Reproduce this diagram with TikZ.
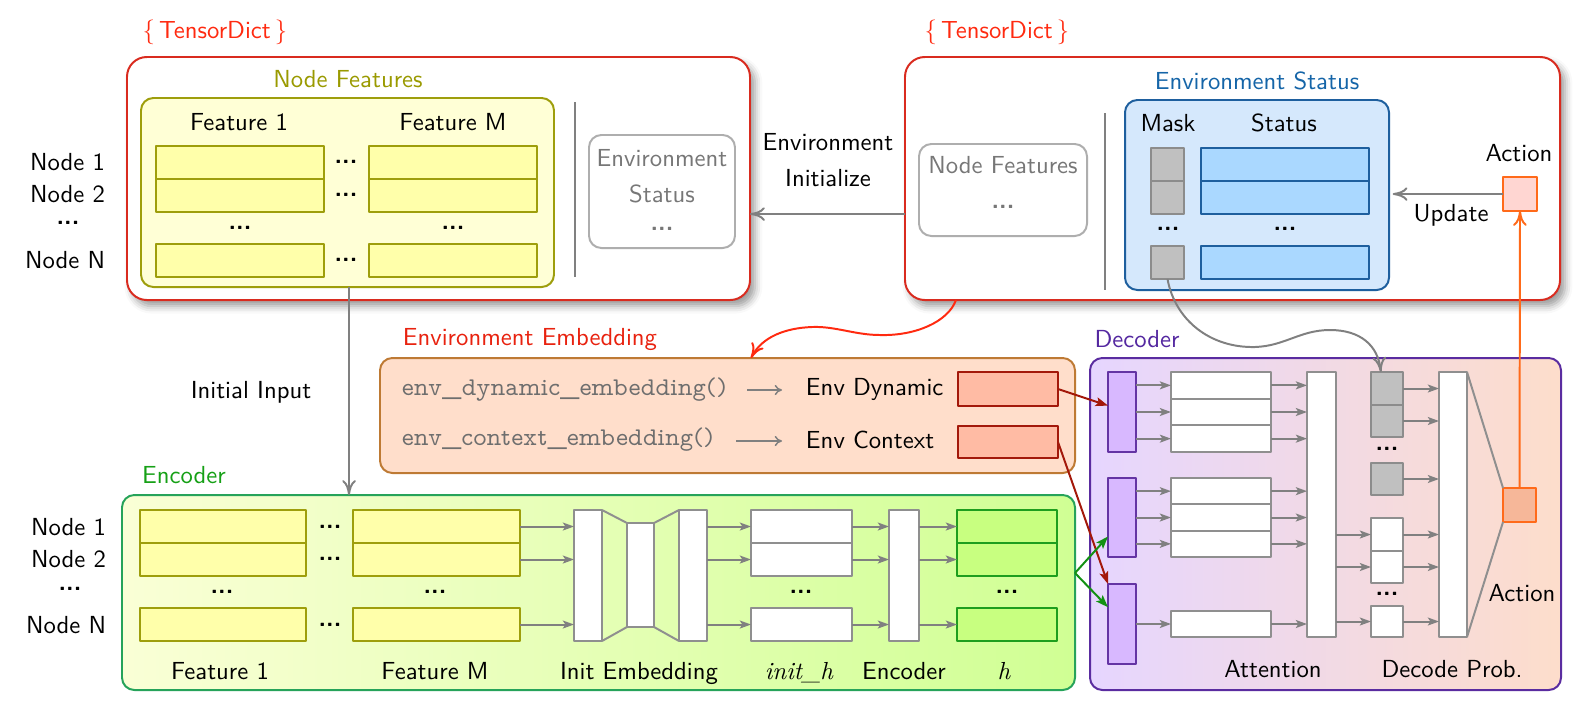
\documentclass[tikz,border=0pt]{standalone}
\usepackage{fontspec}
\usepackage{graphicx}
\newfontfamily\codefont{lmmonoprop10-regular}[Extension=.otf]
\renewcommand{\familydefault}{\sfdefault}
\usetikzlibrary{arrows.meta,fit,shadows.blur,calc}
\definecolor{tdred}{HTML}{D92B1F}
\definecolor{tdtxt}{HTML}{FF2A10}
\definecolor{olv}{HTML}{9E9E0C}
\definecolor{olvtxt}{HTML}{9A9A00}
\definecolor{yfill}{HTML}{FFFFD6}
\definecolor{ycell}{HTML}{FFFFAA}
\definecolor{gbord}{HTML}{AEAEAE}
\definecolor{gtxt}{HTML}{777777}
\definecolor{btxt}{HTML}{1565A8}
\definecolor{bfill}{HTML}{D5E8FC}
\definecolor{bbord}{HTML}{1E5F9E}
\definecolor{bcell}{HTML}{AAD8FF}
\definecolor{mfill}{HTML}{C0C0C0}
\definecolor{mbord}{HTML}{8C8C8C}
\definecolor{orng}{HTML}{FF6A1A}
\definecolor{pinkf}{HTML}{FFD6D2}
\definecolor{eefill}{HTML}{FFDECB}
\definecolor{eebord}{HTML}{BE7A34}
\definecolor{eetxt}{HTML}{E8220F}
\definecolor{salf}{HTML}{FFBBA4}
\definecolor{drd}{HTML}{A3180A}
\definecolor{encbord}{HTML}{26A35A}
\definecolor{enctxt}{HTML}{16A016}
\definecolor{encl}{HTML}{FAFFD6}
\definecolor{encr}{HTML}{D0FF94}
\definecolor{hfill}{HTML}{C8FF80}
\definecolor{hbord}{HTML}{1E9E1E}
\definecolor{grn}{HTML}{139113}
\definecolor{decbord}{HTML}{5A2CA0}
\definecolor{dectxt}{HTML}{5428A0}
\definecolor{decl}{HTML}{E6D6FF}
\definecolor{decr}{HTML}{FDDDCB}
\definecolor{pbar}{HTML}{D8B8FF}
\definecolor{pbord}{HTML}{6434A4}
\definecolor{dact}{HTML}{F6B799}
\definecolor{lg}{HTML}{808080}
\definecolor{codeg}{HTML}{6E6E6E}
\definecolor{wbord}{HTML}{8F8F8F}
\newcommand\mkbox[6]{\node[#1, fit={(#3,#4) (#5,#6)}, inner sep=0pt, outer sep=0pt] (#2) {};}
\newcommand\dts{\textbf{...}}
\begin{document}
\begin{tikzpicture}[x=0.405pt,y=-0.405pt,line width=0.8pt,line join=round,
  txt/.style={inner sep=0pt},
  tdbox/.style={draw=tdred, rounded corners=8pt, fill=white, blur shadow={shadow xshift=2pt,shadow yshift=-2.5pt,shadow blur radius=3pt}},
  nfbox/.style={draw=olv, fill=yfill, rounded corners=5pt},
  gbox/.style={draw=gbord, fill=white, rounded corners=5pt},
  bbox/.style={draw=bbord, fill=bfill, rounded corners=5pt},
  eebox/.style={draw=eebord, fill=eefill, rounded corners=5pt},
  encbox/.style={draw=encbord, left color=encl, right color=encr, rounded corners=5pt},
  decbox/.style={draw=decbord, left color=decl, right color=decr, rounded corners=5pt},
  yc/.style={draw=olv, fill=ycell},
  mc/.style={draw=mbord, fill=mfill},
  stc/.style={draw=bbord, fill=bcell},
  actbox/.style={draw=orng, fill=pinkf},
  dactbox/.style={draw=orng, fill=dact},
  salst/.style={draw=drd, fill=salf},
  hc/.style={draw=hbord, fill=hfill},
  wc/.style={draw=wbord, fill=white},
  pbst/.style={draw=pbord, fill=pbar},
  sepl/.style={draw=lg},
  oarr/.style={draw=lg, -{Computer Modern Rightarrow[length=6pt,width=5.5pt]}},
  sarr/.style={draw=lg, -{Stealth[length=4.5pt,width=3.2pt,inset=1pt]}},
  carr/.style={draw=lg, line width=0.6pt, -{Computer Modern Rightarrow[length=3pt,width=4.2pt]}},
  rarr/.style={draw=drd, -{Stealth[length=5pt,width=3.6pt,inset=1pt]}},
  garr/.style={draw=grn, -{Stealth[length=5pt,width=3.6pt,inset=1pt]}},
  wline/.style={draw=wbord}]
\useasboundingbox (0,0) rectangle (1595,716);

% ---------- TensorDict boxes
\mkbox{tdbox}{tdL}{127}{57}{750}{300}
\mkbox{tdbox}{tdR}{905}{57}{1560}{300}
\node[txt,text=tdtxt] (tdLl) at (215,32) {\{\,TensorDict\,\}};
\node[txt,text=tdtxt] (tdRl) at (997,32) {\{\,TensorDict\,\}};

% ---------- left TensorDict
\node[txt,text=olvtxt] (nfl) at (348,79) {Node Features};
\mkbox{nfbox}{nf}{141}{98}{554}{287}
\node[txt] (ft1) at (239,122) {Feature 1};
\node[txt] (ftm) at (453,122) {Feature M};
\mkbox{yc}{c1a}{156}{146}{324}{179}
\mkbox{yc}{c1b}{156}{179}{324}{212}
\mkbox{yc}{c1n}{156}{244}{324}{277}
\mkbox{yc}{cma}{369}{146}{537}{179}
\mkbox{yc}{cmb}{369}{179}{537}{212}
\mkbox{yc}{cmn}{369}{244}{537}{277}
\node[txt] (d1) at (346,162) {\dts};
\node[txt] (d2) at (346,195) {\dts};
\node[txt] (d3) at (346,260) {\dts};
\node[txt] (d4) at (240,228) {\dts};
\node[txt] (d5) at (453,228) {\dts};
\node[txt,anchor=east] (n1) at (106,162) {Node 1};
\node[txt,anchor=east] (n2) at (106,194) {Node 2};
\node[txt] (n3) at (68,223) {\dts};
\node[txt,anchor=east] (nn) at (106,260) {Node N};
\draw[sepl] (575,102) -- (575,277);
\mkbox{gbox}{es}{589}{135}{735}{248}
\node[txt,text=gtxt] (es1) at (662,158) {Environment};
\node[txt,text=gtxt] (es2) at (662,194) {Status};
\node[txt,text=gtxt] (es3) at (662,229) {\dts};

% ---------- environment initialize
\node[txt] (ei1) at (828,142) {Environment};
\node[txt] (ei2) at (828,178) {Initialize};
\coordinate (iy) at (0,214);
\draw[oarr] (tdR.west |- iy) -- (tdL.east |- iy);

% ---------- right TensorDict
\mkbox{gbox}{nf2}{919}{144}{1087}{236}
\node[txt,text=gtxt] (nf2a) at (1003,165) {Node Features};
\node[txt,text=gtxt] (nf2b) at (1003,207) {\dts};
\draw[sepl] (1105,113) -- (1105,290);
\node[txt,text=btxt] (esl) at (1257,81) {Environment Status};
\mkbox{bbox}{esb}{1125}{100}{1389}{290}
\node[txt] (mkl) at (1168,123) {Mask};
\node[txt] (stl) at (1284,123) {Status};
\mkbox{mc}{mk1}{1151}{148}{1184}{181}
\mkbox{mc}{mk2}{1151}{181}{1184}{214}
\mkbox{mc}{mkn}{1151}{246}{1184}{279}
\node[txt] (mkd) at (1168,229) {\dts};
\mkbox{stc}{st1}{1201}{148}{1369}{181}
\mkbox{stc}{st2}{1201}{181}{1369}{214}
\mkbox{stc}{stn}{1201}{246}{1369}{279}
\node[txt] (std) at (1285,229) {\dts};
\node[txt] (actl) at (1519,153) {Action};
\mkbox{actbox}{act}{1503}{177}{1537}{211}
\node[txt] (upl) at (1451,215) {Update};
\coordinate (uy) at (0,194);
\draw[oarr] (act.west |- uy) -- ([xshift=1.5pt]esb.east |- uy);

% ---------- environment embedding
\node[txt,text=eetxt] (eel) at (530,339) {Environment Embedding};
\mkbox{eebox}{ee}{380}{358}{1075}{473}
\node[txt,text=codeg,anchor=west] (cd1) at (401,390) {\resizebox{131.6pt}{!}{\codefont env\_dynamic\_embedding()}};
\node[txt,text=codeg,anchor=west] (cd2) at (401,440) {\resizebox{126.4pt}{!}{\codefont env\_context\_embedding()}};
\node[txt,anchor=west] (ed) at (805,389) {Env Dynamic};
\node[txt,anchor=west] (ec) at (805,440) {Env Context};
\coordinate (a1s) at (747,390);
\coordinate (a2s) at (736,441);
\draw[carr] (a1s) -- ([xshift=-9.3pt]ed.west |- a1s);
\draw[carr] (a2s) -- ([xshift=-9.3pt]ec.west |- a2s);
\mkbox{salst}{sd}{958}{372}{1058}{406}
\mkbox{salst}{sc}{958}{426}{1058}{458}

% ---------- encoder
\node[txt,text=enctxt] (encl) at (184,475) {Encoder};
\mkbox{encbox}{enc}{122}{495}{1075}{690}
\node[txt,anchor=east] (m1) at (107,527) {Node 1};
\node[txt,anchor=east] (m2) at (107,559) {Node 2};
\node[txt] (m3) at (70,589) {\dts};
\node[txt,anchor=east] (mn) at (107,625) {Node N};
\mkbox{yc}{e1a}{140}{510}{306}{543}
\mkbox{yc}{e1b}{140}{543}{306}{576}
\mkbox{yc}{e1n}{140}{608}{306}{641}
\mkbox{yc}{ema}{353}{510}{520}{543}
\mkbox{yc}{emb}{353}{543}{520}{576}
\mkbox{yc}{emn}{353}{608}{520}{641}
\node[txt] (ed1) at (330,527) {\dts};
\node[txt] (ed2) at (330,559) {\dts};
\node[txt] (ed3) at (330,625) {\dts};
\node[txt] (ed4) at (222,592) {\dts};
\node[txt] (ed5) at (435,592) {\dts};
\mkbox{wc}{ib1}{574}{510}{602}{641}
\mkbox{wc}{ib2}{627}{523}{654}{627}
\mkbox{wc}{ib3}{679}{510}{707}{641}
\draw[wline] (ib1.north east) -- (ib2.north west);
\draw[wline] (ib1.south east) -- (ib2.south west);
\draw[wline] (ib2.north east) -- (ib3.north west);
\draw[wline] (ib2.south east) -- (ib3.south west);
\mkbox{wc}{iha}{751}{510}{852}{543}
\mkbox{wc}{ihb}{751}{543}{852}{576}
\mkbox{wc}{ihn}{751}{608}{852}{641}
\node[txt] (ihd) at (801,592) {\dts};
\mkbox{wc}{eb}{889}{510}{919}{641}
\mkbox{hc}{ha}{957}{510}{1057}{543}
\mkbox{hc}{hb}{957}{543}{1057}{576}
\mkbox{hc}{hn}{957}{608}{1057}{641}
\node[txt] (hd) at (1007,592) {\dts};
\foreach \r in {a,b,n}{
  \draw[sarr] (em\r.east) -- (em\r.east -| ib1.west);
  \draw[sarr] (ib3.east |- ih\r.west) -- (ih\r.west);
  \draw[sarr] (ih\r.east) -- (ih\r.east -| eb.west);
  \draw[sarr] (eb.east |- h\r.west) -- (h\r.west);
}
\node[txt,anchor=base] (lb1) at (220,679) {Feature 1};
\node[txt,anchor=base] (lb2) at (435,679) {Feature M};
\node[txt,anchor=base] (lb3) at (639,679) {Init Embedding};
\node[txt,anchor=base,font=\rmfamily\itshape] (lb4) at (799,679) {init\_h};
\node[txt,anchor=base] (lb5) at (904,679) {Encoder};
\node[txt,anchor=base,font=\rmfamily\itshape] (lb6) at (1004,679) {h};

% ---------- initial input
\node[txt] (iil) at (251,392) {Initial Input};
\coordinate (iix) at (349,0);
\draw[oarr] (nf.south -| iix) -- (enc.north -| iix);

% ---------- decoder
\node[txt,text=dectxt] (decl) at (1137,339) {Decoder};
\mkbox{decbox}{dec}{1090}{358}{1561}{690}
\mkbox{pbst}{pb1}{1108}{372}{1136}{452}
\mkbox{pbst}{pb2}{1108}{478}{1136}{557}
\mkbox{pbst}{pb3}{1108}{584}{1136}{664}
\mkbox{wc}{a11}{1171}{372}{1271}{398.7}
\mkbox{wc}{a12}{1171}{398.7}{1271}{425.3}
\mkbox{wc}{a13}{1171}{425.3}{1271}{452}
\mkbox{wc}{a21}{1171}{478}{1271}{504.3}
\mkbox{wc}{a22}{1171}{504.3}{1271}{530.7}
\mkbox{wc}{a23}{1171}{530.7}{1271}{557}
\mkbox{wc}{a31}{1171}{611}{1271}{637}
\mkbox{wc}{att}{1307}{372}{1336}{637}
\mkbox{mc}{gc1}{1371}{372}{1403}{405}
\mkbox{mc}{gc2}{1371}{405}{1403}{437}
\mkbox{mc}{gcn}{1371}{463}{1403}{495}
\node[txt] (gcd) at (1387,449) {\dts};
\mkbox{wc}{wc1}{1371}{518}{1403}{551}
\mkbox{wc}{wc2}{1371}{551}{1403}{583}
\mkbox{wc}{wcn}{1371}{606}{1403}{637}
\node[txt] (wcd) at (1387,594) {\dts};
\mkbox{wc}{db}{1439}{372}{1467}{637}
\mkbox{dactbox}{dact}{1503}{488}{1536}{522}
\foreach \p/\a in {pb1/a11,pb1/a12,pb1/a13,pb2/a21,pb2/a22,pb2/a23,pb3/a31}{
  \draw[sarr] (\p.east |- \a.west) -- (\a.west);
  \draw[sarr] (\a.east) -- (\a.east -| att.west);
}
\foreach \c in {wc1,wc2,wcn}{
  \draw[sarr] (att.east |- \c.west) -- (\c.west);
  \draw[sarr] (\c.east) -- (\c.east -| db.west);
}
\foreach \c in {gc1,gc2,gcn}{
  \draw[sarr] (\c.east) -- (\c.east -| db.west);
}
\draw[wline] (db.north east) -- (dact.north west);
\draw[wline] (db.south east) -- (dact.south west);
\node[txt] (dactl) at (1522,593) {Action};
\node[txt,anchor=base] (attl) at (1273,677) {Attention};
\node[txt,anchor=base] (dpl) at (1452,677) {Decode Prob.};

% ---------- cross connectors
\draw[rarr] (sd.east) -- ($(pb1.north west)!0.42!(pb1.south west)$);
\draw[rarr] (sc.east) -- (pb3.north west);
\coordinate (gs) at (1075,573);
\draw[garr] (gs) -- ($(pb2.north west)!0.74!(pb2.south west)$);
\draw[garr] (gs) -- ($(pb3.north west)!0.29!(pb3.south west)$);
\draw[oarr,draw=orng] (dact.north) -- (act.south);
\coordinate (rcs) at (956,0);
\coordinate (rce) at (751,0);
\draw[oarr,draw=tdtxt] (tdR.south -| rcs) .. controls (948,322) and (915,336) .. (880,335)
   .. controls (855,335) and (835,326) .. (812,327)
   .. controls (785,328) and (762,337) .. (ee.north -| rce);
\draw[oarr] (mkn.south) .. controls (1175,320) and (1210,348) .. (1255,347)
   .. controls (1285,346) and (1300,330) .. (1330,330)
   .. controls (1360,330) and (1378,345) .. ([xshift=-2.5pt]gc1.north);
\end{tikzpicture}
\end{document}
